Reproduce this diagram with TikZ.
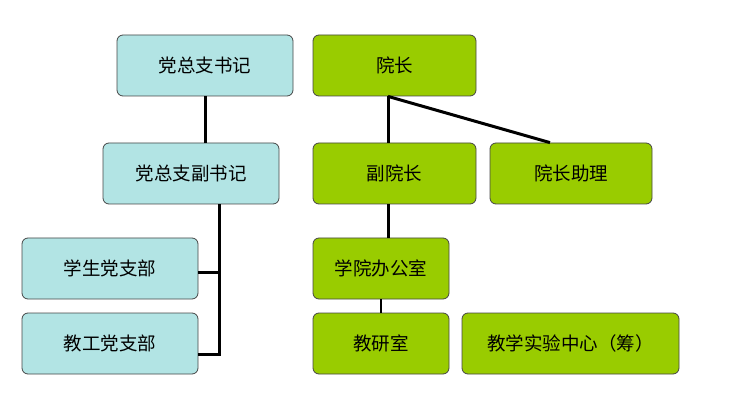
\documentclass[tikz,border=0pt]{standalone}
\usepackage{fontspec}
\newfontfamily\cjk{Noto Sans CJK SC}
\usetikzlibrary{calc}
\definecolor{cy}{RGB}{178,228,228}
\definecolor{gr}{RGB}{153,204,0}
\definecolor{bd}{RGB}{70,70,70}
\begin{document}
\begin{tikzpicture}[x=1pt,y=-1pt,
  box/.style={draw=bd,line width=0.8pt,rounded corners=6pt,minimum height=61pt,inner sep=0pt,font=\cjk\fontsize{18.5}{22}\selectfont},
  cbox/.style={box,fill=cy},
  gbox/.style={box,fill=gr},
  conn/.style={line width=3pt,black}]
\useasboundingbox (0,0) rectangle (729,401);
\node[cbox,minimum width=176pt] (dzs) at (205,65.5) {党总支书记};
\node[cbox,minimum width=176pt] (dfs) at (191,173.5) {党总支副书记};
\node[cbox,minimum width=176pt] (xs) at (110,268.5) {学生党支部};
\node[cbox,minimum width=176pt] (jg) at (110,343.5) {教工党支部};
\node[gbox,minimum width=163pt] (yz) at (394.5,65.5) {院长};
\node[gbox,minimum width=163pt] (fyz) at (394.5,173.5) {副院长};
\node[gbox,minimum width=162pt] (yzzl) at (571,173.5) {院长助理};
\node[gbox,minimum width=136pt] (xbg) at (381,268.5) {学院办公室};
\node[gbox,minimum width=136pt] (jys) at (381,343.5) {教研室};
\node[gbox,minimum width=217pt] (sy) at (570.5,343.5) {教学实验中心（筹）};
\coordinate (t) at ($(dfs.south)+(28,0)$);
\draw[conn] (dzs.south) -- (dzs.south |- dfs.north);
\draw[conn] (t) |- ($(jg.east)+(0,10.5)$);
\draw[conn] ($(xs.east)+(0,3.5)$) -- (t |- {$(xs.east)+(0,3.5)$});
\coordinate (yb) at ($(yz.south)+(-6.5,0)$);
\draw[conn] (yb) -- (yb |- fyz.north);
\draw[conn] (yb) -- ($(yzzl.north)+(-21,0)$);
\draw[conn] (yb |- fyz.south) -- (yb |- xbg.north);
\draw[line width=2pt] (xbg.south) -- (jys.north);
\end{tikzpicture}
\end{document}
